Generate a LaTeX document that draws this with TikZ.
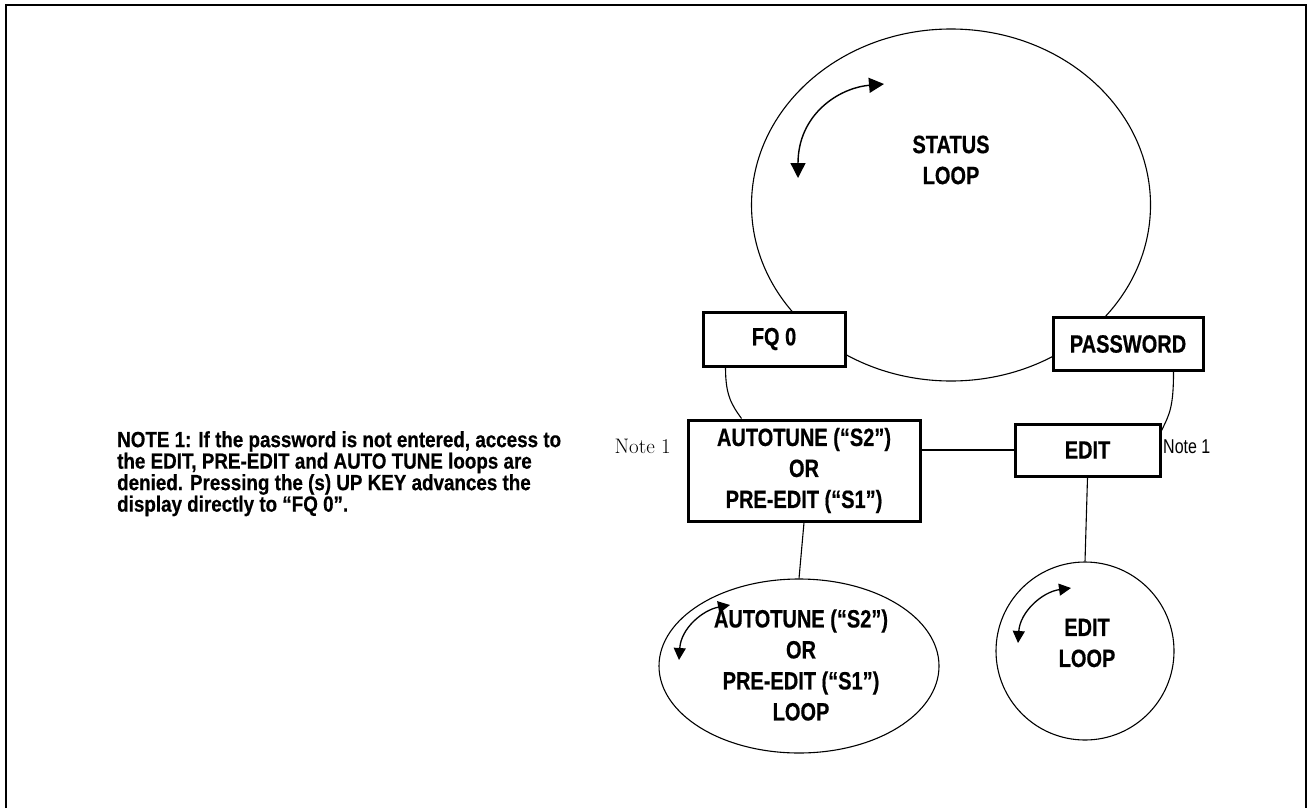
\documentclass[tikz,border=0pt]{standalone}
\usepackage{fontspec}
\usetikzlibrary{arrows.meta,shapes.geometric}
\newfontfamily\cond{Liberation Sans}[FakeStretch=0.8, BoldFeatures={FakeBold=0.5}]
\newfontfamily\condnote{Liberation Sans}[FakeStretch=0.855, BoldFeatures={FakeBold=0.5}]
\begin{document}
\begin{tikzpicture}[x=1pt,y=-1pt,
  lbl/.style={font=\cond\bfseries\fontsize{25}{31}\selectfont, align=center, text=black},
  boxnode/.style={draw, line width=3pt, fill=white, inner sep=0pt, lbl},
  thin/.style={line width=1.1pt},
  dbl/.style={line width=1.4pt, {Triangle[length=15pt,width=15pt]}-{Triangle[length=15pt,width=15pt]}},
  dbls/.style={line width=1.3pt, {Triangle[length=12pt,width=12pt]}-{Triangle[length=12pt,width=12pt]}}]
\useasboundingbox (0,0) rectangle (1308,808);
% frame
\draw[line width=2.4pt] (6,808) -- (6,5) -- (1306,5) -- (1306,808);
% status loop
\node[ellipse, draw, thin, minimum width=399pt, minimum height=352pt, inner sep=0pt] (status) at (951,205) {};
\node[lbl] (statustxt) at (951,160) {STATUS\\LOOP};
\coordinate (sa) at (798,178);
\coordinate (sb) at (884,84);
\draw[dbl] (sa) .. controls (798,115) and (838,88) .. (sb);
% boxes
\node[boxnode, minimum width=142pt, minimum height=54pt] (fq) at (774,339) {FQ 0};
\node[boxnode, minimum width=150pt, minimum height=53pt] (pw) at (1128,344) {PASSWORD};
\node[boxnode, minimum width=232pt, minimum height=101pt] (auto) at (804,470.5) {AUTOTUNE (“S2”)\\OR\\PRE-EDIT (“S1”)};
\node[boxnode, minimum width=145pt, minimum height=52pt] (edit) at (1087.5,450) {EDIT};
% notes
\node[font=\fontsize{21}{22}\selectfont, anchor=east, inner sep=0pt] (n1) at (671,446) {Note 1};
\node[font=\cond\fontsize{20}{22}\selectfont, anchor=west, inner sep=0pt] (n2) at (1163,447) {Note 1};
\node[font=\condnote\bfseries\fontsize{22}{21.5}\selectfont, anchor=north west, align=left, inner sep=0pt] (note) at (117,431)
 {NOTE 1: If the password is not entered, access to\\the EDIT, PRE-EDIT and AUTO TUNE loops are\\denied. Pressing the (s) UP KEY advances the\\display directly to “FQ 0”.};
% loops
\node[ellipse, draw, thin, minimum width=280pt, minimum height=174pt, inner sep=0pt] (aloop) at (799,666) {};
\node[lbl] (aloopt) at (801,665) {AUTOTUNE (“S2”)\\OR\\PRE-EDIT (“S1”)\\LOOP};
\node[circle, draw, thin, minimum size=178pt, inner sep=0pt] (eloop) at (1085,651) {};
\node[lbl] (eloopt) at (1087,643) {EDIT\\LOOP};
\coordinate (aa) at (679,660);
\coordinate (ab) at (730,605);
\draw[dbls] (aa) .. controls (681,628) and (703,610) .. (ab);
\coordinate (ea) at (1018,643);
\coordinate (eb) at (1071,588);
\draw[dbls] (ea) .. controls (1020,612) and (1042,592) .. (eb);
% connectors
\draw[thin] ([xshift=24pt]fq.south west) .. controls +(0,28) and +(-10,-14) .. ([xshift=55pt]auto.north west);
\draw[thin] ([xshift=-31pt]pw.south east) .. controls +(0,35) and +(8,-16) .. ([yshift=-8pt]edit.north east);
\draw[thin] (auto.east |- edit.west) -- (edit.west);
\draw[thin] (auto.south) -- (aloop.north);
\draw[thin] (edit.south) -- (eloop.north);
\end{tikzpicture}
\end{document}
